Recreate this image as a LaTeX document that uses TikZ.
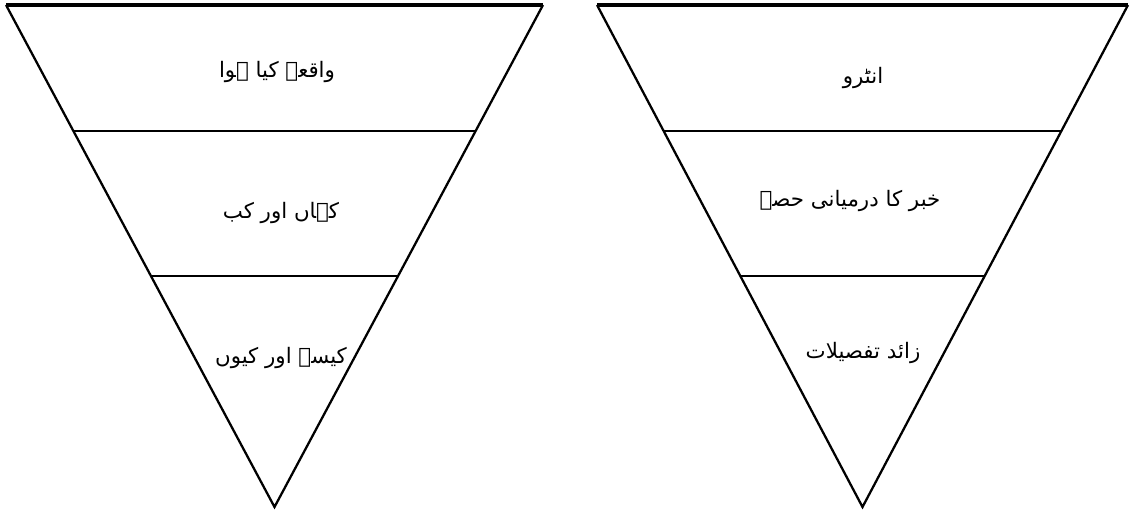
\documentclass[tikz,border=0pt]{standalone}
\usepackage{fontspec}
\newfontfamily\urdufont[Script=Arabic]{DejaVu Sans}
\TeXXeTstate=1
\usetikzlibrary{positioning,calc}

\begin{document}
\begin{tikzpicture}[x=0.75pt, y=-0.75pt,
    edge/.style={line width=1.7pt},
    topedge/.style={line width=2.4pt},
    urdutext/.style={font=\urdufont\fontsize{16}{19}\selectfont, inner sep=1pt}]
    \useasboundingbox (0,0) rectangle (1130,513);

    % left pyramid
    \coordinate (ltl) at (6,5);
    \coordinate (ltr) at (543,5);
    \coordinate (lapex) at (274.5,507);
    \draw[edge] (ltl) -- (lapex) -- (ltr);
    \draw[topedge] (ltl) -- (ltr);
    \draw[edge] ($(ltl)!0.251!(lapex)$) -- ($(ltr)!0.251!(lapex)$);
    \draw[edge] ($(ltl)!0.54!(lapex)$) -- ($(ltr)!0.54!(lapex)$);

    \node (what) [urdutext] at (277,72) {\beginR واقعہ کیا ہوا\endR};
    \node (where) [urdutext] at (281,213) {\beginR کہاں اور کب\endR};
    \node (how) [urdutext] at (281,358) {\beginR کیسے اور کیوں\endR};

    % right pyramid
    \coordinate (rtl) at (597,5);
    \coordinate (rtr) at (1128,5);
    \coordinate (rapex) at (862.5,507);
    \draw[edge] (rtl) -- (rapex) -- (rtr);
    \draw[topedge] (rtl) -- (rtr);
    \draw[edge] ($(rtl)!0.251!(rapex)$) -- ($(rtr)!0.251!(rapex)$);
    \draw[edge] ($(rtl)!0.54!(rapex)$) -- ($(rtr)!0.54!(rapex)$);

    \node (intro) [urdutext] at (863,78) {\beginR انٹرو\endR};
    \node (middle) [urdutext] at (850,201) {\beginR خبر کا درمیانی حصہ\endR};
    \node (details) [urdutext] at (863,353) {\beginR زائد تفصیلات\endR};
\end{tikzpicture}
\end{document}
